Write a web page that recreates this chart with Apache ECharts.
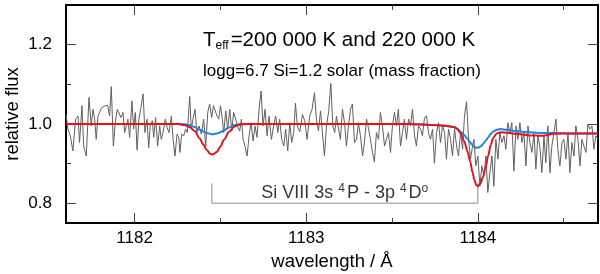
<!DOCTYPE html>
<html>
<head>
<meta charset="utf-8">
<script src="https://cdn.jsdelivr.net/npm/echarts@6/dist/echarts.min.js"></script>
<style>html,body{margin:0;padding:0;background:#fff;}#c{width:600px;height:274px;}</style>
</head>
<body>
<div id="c"></div>
<script>
// ---- data ----
var obsWave = [
1181.600,1181.611,1181.625,1181.640,1181.656,1181.670,1181.679,1181.693,1181.703,1181.718,
1181.734,1181.747,1181.757,1181.767,1181.776,1181.786,1181.796,1181.808,1181.819,1181.831,
1181.843,1181.854,1181.864,1181.876,1181.887,1181.899,1181.909,1181.920,1181.932,1181.942,
1181.951,1181.961,1181.971,1181.984,1181.994,1182.004,1182.014,1182.025,1182.035,1182.049,
1182.060,1182.072,1182.082,1182.091,1182.103,1182.111,1182.122,1182.134,1182.146,1182.155,
1182.165,1182.179,1182.189,1182.200,1182.214,1182.224,1182.235,1182.247,1182.257,1182.264,
1182.274,1182.286,1182.297,1182.307,1182.321,1182.330,1182.340,1182.352,1182.362,1182.375,
1182.389,1182.402,1182.414,1182.426,1182.437,1182.449,1182.459,1182.468,1182.480,1182.490,
1182.500,1182.511,1182.519,1182.531,1182.542,1182.554,1182.566,1182.577,1182.589,1182.599,
1182.612,1182.622,1182.632,1182.643,1182.655,1182.667,1182.678,1182.690,1182.702,1182.713,
1182.725,1182.737,1182.748,1182.760,1182.772,1182.783,1182.797,1182.810,1182.822,1182.834,
1182.845,1182.857,1182.869,1182.880,1182.892,1182.904,1182.915,1182.927,1182.937,1182.948,
1182.962,
1182.978,1182.991,1183.005,1183.020,1183.034,1183.048,1183.059,1183.071,1183.083,1183.094,
1183.106,1183.118,1183.131,1183.143,1183.155,1183.166,1183.176,1183.188,1183.199,1183.211,
1183.223,1183.234,1183.246,1183.258,1183.269,1183.281,1183.293,1183.304,1183.316,1183.328,
1183.339,1183.351,1183.362,1183.374,1183.386,1183.397,1183.409,1183.421,1183.432,1183.444,
1183.456,1183.467,1183.479,1183.491,1183.502,1183.514,1183.526,1183.537,1183.549,1183.561,
1183.572,1183.584,1183.596,1183.607,1183.619,1183.631,1183.642,1183.654,1183.666,1183.677,
1183.689,1183.701,1183.712,1183.724,1183.736,1183.747,1183.759,1183.771,1183.782,1183.794,
1183.806,1183.817,1183.829,1183.841,1183.852,1183.864,1183.876,1183.887,1183.899,1183.911,
1183.922,1183.934,1183.946,1183.957,1183.969,1183.977,1183.988,1184.000,1184.012,1184.023,
1184.035,1184.047,1184.058,1184.070,1184.082,1184.093,1184.105,1184.117,1184.128,1184.140,
1184.152,1184.163,1184.175,1184.187,1184.198,1184.210,1184.222,1184.233,1184.245,1184.257,
1184.268,1184.280,1184.292,1184.303,1184.315,1184.327,1184.338,1184.350,1184.361,1184.373,
1184.385,1184.396,1184.408,1184.420,1184.431,1184.443,1184.455,1184.466,1184.478,1184.490,
1184.501,1184.513,1184.525,1184.536,1184.548,1184.560,1184.571,1184.583,1184.595,1184.606,
1184.618,1184.630,1184.641,1184.653,1184.665,1184.676,1184.688,1184.700
];
var obsFlux = [
1.024,0.987,0.970,0.932,1.012,1.020,0.953,1.046,0.944,0.919,
1.067,0.995,1.037,1.012,0.961,1.019,1.024,1.041,1.037,1.046,
1.047,1.020,1.094,0.944,1.003,1.037,1.041,1.016,1.029,0.978,
0.995,1.012,0.966,1.058,0.987,1.029,0.934,1.012,1.037,1.076,
0.978,1.012,0.940,0.995,1.008,0.966,1.016,0.944,0.995,0.961,
0.978,1.012,0.991,0.978,1.020,0.961,0.919,0.974,0.966,0.928,
0.974,0.970,0.987,0.978,1.069,0.987,1.012,1.037,0.978,0.995,
0.974,1.012,0.944,1.029,1.050,1.016,1.046,1.041,1.020,1.012,
1.046,1.012,0.978,1.033,0.987,1.037,0.982,1.029,1.012,0.995,
0.982,1.012,0.961,0.944,0.919,0.970,1.003,0.957,0.995,0.966,
1.037,1.083,0.995,1.037,0.970,1.020,0.961,0.995,1.020,0.978,
1.012,0.961,0.944,0.987,0.932,1.003,0.953,0.978,1.052,0.995,
0.980,
1.024,1.008,0.961,1.020,1.037,1.079,1.012,0.982,1.033,1.037,
0.919,0.995,1.033,1.102,0.995,0.978,1.020,0.987,0.961,1.037,
1.003,0.944,0.995,1.037,1.050,0.953,0.961,1.003,0.970,0.919,
0.953,1.012,0.991,0.961,0.928,0.904,0.978,0.961,1.029,0.995,
0.944,0.961,0.978,0.928,0.995,1.029,0.995,1.037,0.944,0.978,
1.012,0.961,1.012,0.995,1.037,0.970,0.944,0.995,0.987,0.970,
1.016,1.020,0.978,0.961,0.987,0.901,0.978,1.003,0.953,0.995,
0.978,0.911,0.987,0.961,0.919,0.987,0.944,0.919,0.978,0.936,
1.020,1.056,0.961,0.911,0.944,0.961,0.894,0.919,0.843,0.894,
0.869,0.919,0.827,0.877,0.919,0.843,0.961,0.911,0.978,0.953,
0.970,0.936,1.003,0.978,1.003,0.881,0.995,0.961,1.003,0.953,
0.978,0.894,0.995,0.953,0.928,0.978,0.886,0.970,0.944,0.877,
0.970,0.902,0.995,0.877,0.944,0.978,1.012,0.936,0.894,0.953,
0.961,0.911,0.978,0.877,0.953,0.919,0.995,0.961,0.894,0.961,
0.944,0.928,0.999,0.987,0.995,0.936,0.970,0.961
];
var modelWave = [1181.60,1182.25,1182.29,1182.32,1182.35,1182.38,1182.40,1182.42,1182.44,1182.45,1182.46,1182.48,1182.50,
  1182.52,1182.55,1182.58,1182.61,1182.65,
  1183.60,1183.75,1183.82,1183.86,1183.88,1183.90,1183.92,1183.94,1183.955,1183.97,1183.98,1183.99,1184.00,1184.015,
  1184.03,1184.045,1184.06,1184.075,1184.09,1184.11,1184.13,1184.17,1184.22,1184.30,1184.38,1184.44,1184.55,1184.70];
var redFlux  = [1.000,1.000,0.997,0.992,0.982,0.963,0.948,0.934,0.925,0.923,0.924,0.930,0.943,
  0.960,0.980,0.993,0.998,1.000,
  1.000,0.997,0.995,0.992,0.988,0.976,0.957,0.930,0.905,0.876,0.858,0.846,0.843,0.850,
  0.866,0.890,0.920,0.947,0.965,0.976,0.979,0.978,0.975,0.971,0.970,0.975,0.976,0.976];
var blueFlux = [1.000,1.000,0.999,0.997,0.992,0.985,0.981,0.977,0.975,0.974,0.974,0.976,0.979,
  0.984,0.991,0.997,0.999,1.000,
  1.000,0.997,0.995,0.992,0.987,0.980,0.972,0.962,0.954,0.946,0.942,0.940,0.940,0.943,
  0.949,0.957,0.966,0.975,0.981,0.985,0.987,0.985,0.982,0.979,0.977,0.977,0.976,0.976];
var bracketWave = [1182.45,1182.45,1184.0,1184.0];
var bracketFlux = [0.85,0.80,0.80,0.85];
var labelPos = [1183.23,0.826];
var xMajorTicks = [1182,1183,1184];
var xMinorTicks = [1182.5,1183.5,1184.5];
var yMajorTicks = [0.8,1.0,1.2];
var yMinorTicks = [0.9,1.1];
var xRange = [1181.6,1184.7];
var yRange = [0.75,1.30];

function zip(a,b){var r=[];for(var i=0;i<a.length;i++)r.push([a[i],b[i]]);return r;}

var FONT = 'Liberation Sans, Arial, Helvetica, sans-serif';
var chart = echarts.init(document.getElementById('c'), null, {renderer:'canvas'});

function xAx(pos, ticks, len, labels){
  return {type:'value', min:xRange[0], max:xRange[1], position:pos,
    axisLine:{show:false}, splitLine:{show:false},
    axisTick:{show:true, inside:true, length:len, customValues:ticks, lineStyle:{color:'#444',width:1}},
    axisLabel:labels ? {show:true, customValues:ticks, fontSize:17, color:'#000', fontFamily:FONT, margin:7,
      formatter:function(v){return String(Math.round(v));}} : {show:false}
  };
}
function yAx(pos, ticks, len, labels){
  return {type:'value', min:yRange[0], max:yRange[1], position:pos,
    axisLine:{show:false}, splitLine:{show:false},
    axisTick:{show:true, inside:true, length:len, customValues:ticks, lineStyle:{color:'#444',width:1}},
    axisLabel:labels ? {show:true, customValues:ticks, fontSize:17, color:'#000', fontFamily:FONT, margin:14,
      formatter:function(v){return v.toFixed(1);}} : {show:false}
  };
}

var option = {
  animation:false,
  backgroundColor:'#fff',
  grid:{left:66, right:2, top:5, bottom:51, show:true, borderColor:'#000', borderWidth:2, backgroundColor:'transparent'},
  title:[
    {left:203, top:28, padding:0,
     text:'{t|T}{s|eff}{t|=200 000 K and 220 000 K}',
     textStyle:{fontWeight:'normal', rich:{
       t:{fontSize:20.5, fontFamily:FONT, fontWeight:'normal', color:'#000', lineHeight:24},
       s:{fontSize:12, fontFamily:FONT, fontWeight:'normal', color:'#000', lineHeight:12, verticalAlign:'bottom', padding:[0,2,0,0]}
     }}},
    {left:203, top:63, padding:0,
     text:'logg=6.7 Si=1.2 solar (mass fraction)',
     textStyle:{fontSize:17, fontFamily:FONT, color:'#000', fontWeight:'normal'}}
  ],
  xAxis:[xAx('bottom',xMajorTicks,10,true), xAx('bottom',xMinorTicks,5,false),
         xAx('top',xMajorTicks,10,false), xAx('top',xMinorTicks,5,false)],
  yAxis:[yAx('left',yMajorTicks,10,true), yAx('left',yMinorTicks,5,false),
         yAx('right',yMajorTicks,10,false), yAx('right',yMinorTicks,5,false)],
  graphic:[
    {type:'text', x:13, y:114, rotation:Math.PI/2,
     style:{text:'relative flux', fontSize:18.5, fontFamily:FONT, fill:'#000', align:'center', verticalAlign:'middle'}},
    {type:'text', x:332, y:262,
     style:{text:'wavelength / Å', fontSize:18.5, fontFamily:FONT, fill:'#000', align:'center', verticalAlign:'middle'}}
  ],
  series:[
    {type:'line', data:zip(bracketWave,bracketFlux), symbol:'none', lineStyle:{color:'#8a8a8a', width:1}, z:1, silent:true},
    {type:'line', data:zip(obsWave,obsFlux), symbol:'none', lineStyle:{color:'#606060', width:1}, z:2, silent:true},
    {type:'line', data:zip(modelWave,blueFlux), symbol:'none', smooth:0.3, smoothMonotone:'x', lineStyle:{color:'#1f84e0', width:2}, z:3, silent:true},
    {type:'line', data:zip(modelWave,redFlux), symbol:'none', smooth:0.3, smoothMonotone:'x', lineStyle:{color:'#e3141c', width:2}, z:4, silent:true},
    {type:'scatter', data:[labelPos], symbolSize:0, z:5, silent:true,
     label:{show:true, position:'inside',
       formatter:'{n|Si VIII 3s }{p|4}{n|P - 3p }{p|4}{n|D}{p|o}',
       rich:{
         n:{fontSize:18, fontFamily:FONT, color:'#000', lineHeight:20},
         p:{fontSize:12, fontFamily:FONT, color:'#000', lineHeight:12, verticalAlign:'top', padding:[0,2,0,0]}
       }}}
  ]
};
chart.setOption(option);
</script>
</body>
</html>
